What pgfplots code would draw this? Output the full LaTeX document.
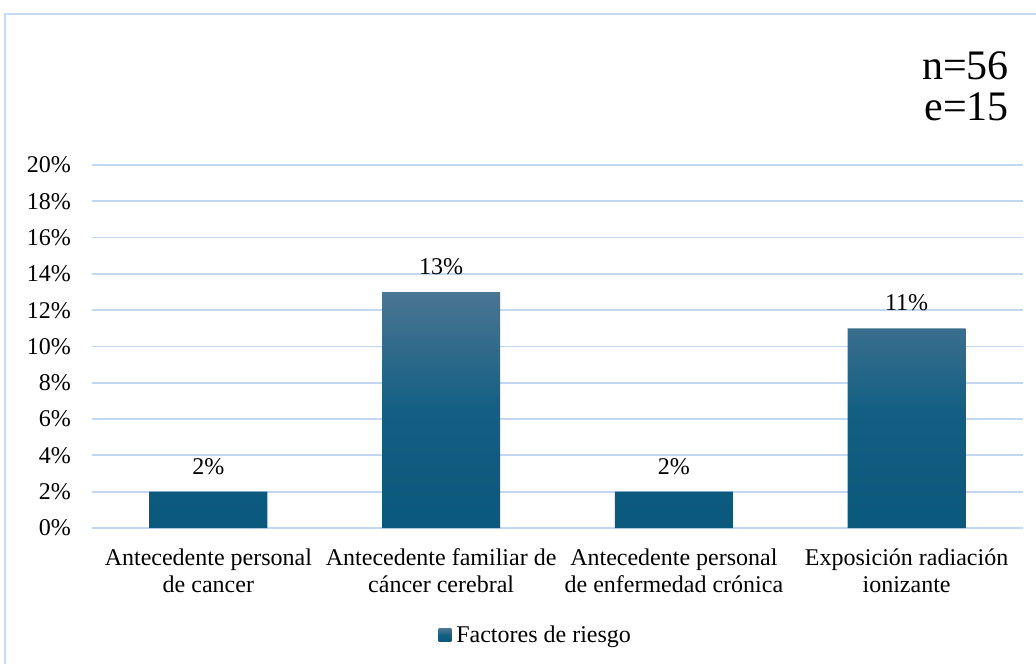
\documentclass[border=0pt]{standalone}
\usepackage{pgfplots}
\pgfplotsset{compat=1.18}
\usepackage{fontspec}
\setmainfont{Liberation Serif}

\definecolor{gridblue}{HTML}{C3D7F0}
\definecolor{framblue}{HTML}{C6DAF0}
\definecolor{bartop}{HTML}{4B7592}
\definecolor{barmid}{HTML}{135F83}
\definecolor{barbot}{HTML}{0A587B}

\newcommand{\lbl}{\fontsize{24bp}{27bp}\selectfont}

\begin{document}
\begin{tikzpicture}
  % page area and chart frame
  \path[use as bounding box] (0,0) rectangle (1036bp,664bp);
  \draw[framblue, line width=2bp] (5bp,0bp) -- (5bp,650bp) -- (1040bp,650bp);

  % sample size annotation
  \node[anchor=base east, inner sep=0pt, font=\fontsize{42bp}{41bp}\selectfont]
    at (1009bp,584bp) {n=56};
  \node[anchor=base east, inner sep=0pt, font=\fontsize{42bp}{41bp}\selectfont]
    at (1009bp,543bp) {e=15};

  \begin{axis}[
    at={(92bp,136bp)}, anchor=south west,
    scale only axis,
    width=931bp, height=363bp,
    xmin=-0.5, xmax=3.5,
    ymin=0, ymax=20,
    /pgf/number format/assume math mode=true,
    axis line style={draw=none},
    major tick length=0pt,
    ytick={0,2,...,20},
    yticklabels={0\%,2\%,4\%,6\%,8\%,10\%,12\%,14\%,16\%,18\%,20\%},
    ymajorgrids,
    major grid style={draw=gridblue, line width=1.8bp},
    yticklabel style={font=\lbl, anchor=east, inner sep=0pt, xshift=-21bp},
    xtick={0,1,2,3},
    xticklabels={
      {Antecedente personal\\de cancer},
      {Antecedente familiar de\\cáncer cerebral},
      {Antecedente personal\\de enfermedad crónica},
      {Exposición radiación\\ionizante}},
    xticklabel style={font=\lbl, align=center, anchor=north, inner sep=0pt, yshift=-20.5bp},
    clip=false,
    legend style={
      at={(axis description cs:0.3723,-0.2948)}, anchor=west,
      draw=none, fill=none, inner sep=0pt, outer sep=0pt,
      font=\lbl, nodes={inner sep=0pt},
      legend cell align=left},
    legend image code/.code={%
      \fill[barmid] (0bp,-6.3bp) rectangle (12.7bp,6.3bp);
      \path (0bp,0bp) -- (17.7bp,0bp);},
  ]
    \addplot[
      ybar, bar width=118bp, draw=none,
      top color=bartop, bottom color=barbot, middle color=barmid,
      nodes near coords={\pgfmathprintnumber{\pgfplotspointmeta}\%},
      nodes near coords style={font=\lbl, anchor=south, inner sep=0pt, yshift=17bp, text=black},
    ] coordinates {(0,2) (1,13) (2,2) (3,11)};
    \addlegendentry{Factores de riesgo}
  \end{axis}
\end{tikzpicture}
\end{document}
